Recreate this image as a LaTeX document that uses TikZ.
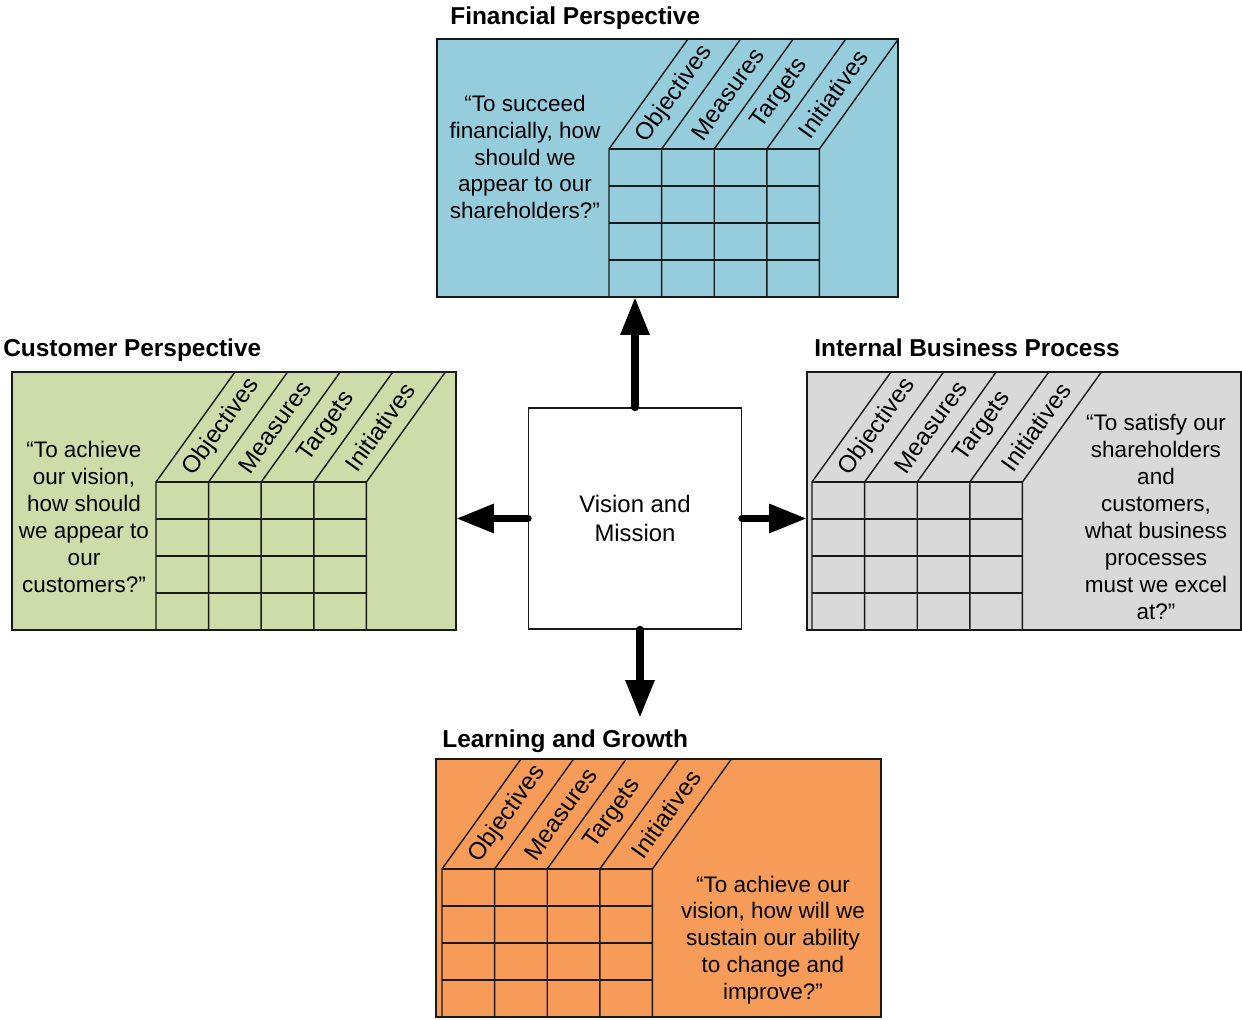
\documentclass[tikz,border=0pt]{standalone}
\usepackage{fontspec}
\setmainfont{Liberation Sans}
\usetikzlibrary{arrows.meta}

\definecolor{finblue}{RGB}{150,205,220}
\definecolor{custgreen}{RGB}{205,220,168}
\definecolor{procgrey}{RGB}{217,217,217}
\definecolor{learnorange}{RGB}{246,156,88}

\newcommand{\pxu}{0.02cm}

% grid of one perspective, #1,#2 = top left corner of the grid
\newcommand{\bscgrid}[2]{%
  \foreach \c in {0,...,4}
    \draw[gridline] (#1+\c*52.6,#2+148) -- (#1+\c*52.6,#2) -- ++(79,-110);
  \foreach \r in {0,...,4}
    \draw[gridline] (#1,#2+\r*37) -- (#1+210.4,#2+\r*37);
  \foreach \lbl [count=\i from 0] in {Objectives,Measures,Targets,Initiatives}
    \node[collabel] (lbl\i) at (#1+\i*52.6+26.3+39.5,#2-55) {\lbl};
}

\begin{document}
\begin{tikzpicture}[x=0.02cm, y=-0.02cm,
    panel/.style={draw=black!90, line width=0.85pt, inner sep=0pt, outer sep=0pt,
      anchor=north west, minimum height=258*\pxu},
    gridline/.style={draw=black!90, line width=0.8pt},
    collabel/.style={rotate=54.3, inner sep=0pt, font=\fontsize{13.8}{15}\selectfont},
    question/.style={align=center, inner sep=0pt, font=\fontsize{12.8}{15.3}\selectfont},
    heading/.style={anchor=base west, inner sep=0pt, font=\bfseries\fontsize{13.9}{16}\selectfont},
    bigarrow/.style={line width=4.5pt, line cap=round, -{Triangle[length=21.5pt, width=15.5pt]}}]
    \useasboundingbox (0,0) rectangle (1242,1020);

    % financial
    \node[heading] (finhead) at (450,25) {Financial Perspective};
    \node[panel, fill=finblue, minimum width=461*\pxu] (fin) at (437,39) {};
    \bscgrid{609}{149}
    \node[question] (finq) at (525,157) {“To succeed\\financially, how\\should we\\appear to our\\shareholders?”};

    % customer
    \node[heading] (custhead) at (3,357) {Customer Perspective};
    \node[panel, fill=custgreen, minimum width=444*\pxu] (cust) at (12,372) {};
    \bscgrid{156}{482}
    \node[question] (custq) at (84,517) {“To achieve\\our vision,\\how should\\we appear to\\our\\customers?”};

    % internal business process
    \node[heading] (ibphead) at (814,357) {Internal Business Process};
    \node[panel, fill=procgrey, minimum width=434*\pxu] (ibp) at (807,372) {};
    \bscgrid{812}{482}
    \node[question] (ibpq) at (1156,517) {“To satisfy our\\shareholders\\and\\customers,\\what business\\processes\\must we excel\\at?”};

    % learning and growth
    \node[heading] (lghead) at (442,747) {Learning and Growth};
    \node[panel, fill=learnorange, minimum width=445*\pxu] (lg) at (436,759) {};
    \bscgrid{442}{869}
    \node[question] (lgq) at (773,940) {“To achieve our\\vision, how will we\\sustain our ability\\to change and\\improve?”};

    % vision and mission
    \node[draw=black!90, line width=0.85pt, fill=white, minimum width=213*\pxu, minimum height=221*\pxu,
      align=center, font=\fontsize{13.6}{16.3}\selectfont] (vm) at (635,518.5) {Vision and\\Mission};

    % arrows
    \coordinate (lgtip) at (640,718);
    \draw[bigarrow] (vm.north) -- (vm.north |- fin.south);
    \draw[bigarrow] (vm.west) -- (vm.west -| cust.east);
    \draw[bigarrow] (vm.east) -- (vm.east -| ibp.west);
    \draw[bigarrow] ([xshift=5*\pxu]vm.south) -- (lgtip);
\end{tikzpicture}
\end{document}
